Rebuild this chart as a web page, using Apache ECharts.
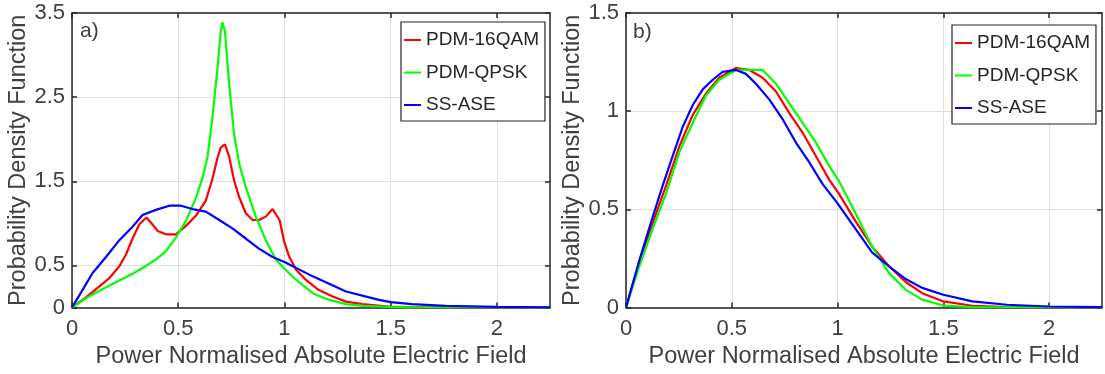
<!DOCTYPE html>
<html><head><meta charset="utf-8">
<script src="https://cdn.jsdelivr.net/npm/echarts@6.0.0/dist/echarts.min.js"></script>
<style>html,body{margin:0;padding:0;background:#fff}#c{width:1105px;height:374px}</style>
</head><body><div id="c"></div>
<script>
const seriesNames = ['PDM-16QAM', 'PDM-QPSK', 'SS-ASE'];
const seriesColors = ['#ff0000', '#00ff00', '#0000ff'];
const panelLabels = ['a)', 'b)'];
const xTitle = 'Power Normalised Absolute Electric Field';
const yTitle = 'Probability Density Function';
const xTicks = [0, 0.5, 1, 1.5, 2];
const yTicksA = [0, 0.5, 1.5, 2.5, 3.5];
const yTicksB = [0, 0.5, 1, 1.5];

// Panel a)
const a16qam = [[0,0],[0.066,0.12],[0.129,0.25],[0.176,0.35],[0.223,0.49],[0.254,0.63],[0.285,0.82],[0.317,0.99],[0.35,1.07],[0.371,1.01],[0.403,0.91],[0.442,0.87],[0.489,0.87],[0.536,0.97],[0.583,1.09],[0.63,1.27],[0.661,1.53],[0.685,1.78],[0.7,1.9],[0.72,1.94],[0.74,1.79],[0.763,1.51],[0.787,1.31],[0.818,1.12],[0.85,1.04],[0.88,1.04],[0.912,1.08],[0.944,1.17],[0.977,1.04],[1.0,0.77],[1.023,0.6],[1.055,0.45],[1.1,0.33],[1.16,0.21],[1.227,0.13],[1.29,0.07],[1.367,0.04],[1.49,0.012],[1.6,0.004],[1.8,0.001],[2.25,0]];
const aQpsk = [[0,0],[0.066,0.11],[0.129,0.2],[0.207,0.3],[0.285,0.4],[0.332,0.47],[0.395,0.57],[0.442,0.67],[0.489,0.83],[0.536,1.03],[0.583,1.3],[0.614,1.54],[0.638,1.79],[0.661,2.26],[0.685,2.85],[0.7,3.28],[0.708,3.39],[0.72,3.28],[0.74,2.65],[0.763,2.06],[0.787,1.71],[0.818,1.43],[0.865,1.08],[0.912,0.8],[0.959,0.57],[1.0,0.46],[1.055,0.33],[1.133,0.17],[1.21,0.09],[1.29,0.04],[1.37,0.02],[1.5,0.008],[1.6,0.002],[2.25,0]];
const aAse = [[0,0],[0.05,0.21],[0.097,0.41],[0.16,0.6],[0.223,0.8],[0.285,0.96],[0.332,1.1],[0.395,1.16],[0.458,1.21],[0.513,1.21],[0.567,1.17],[0.63,1.14],[0.693,1.04],[0.755,0.94],[0.818,0.82],[0.88,0.7],[0.944,0.6],[1.0,0.54],[1.133,0.37],[1.29,0.19],[1.445,0.09],[1.5,0.063],[1.6,0.04],[1.758,0.02],[2.0,0.008],[2.25,0.003]];

// Panel b)
const b16qam = [[0,0],[0.063,0.23],[0.126,0.43],[0.189,0.62],[0.252,0.82],[0.315,0.98],[0.378,1.09],[0.441,1.17],[0.52,1.22],[0.583,1.21],[0.646,1.17],[0.709,1.1],[0.772,0.99],[0.835,0.89],[0.898,0.77],[0.961,0.65],[1.006,0.58],[1.085,0.44],[1.164,0.31],[1.243,0.21],[1.322,0.13],[1.4,0.073],[1.5,0.031],[1.637,0.009],[1.8,0.002],[2.25,0]];
const bQpsk = [[0,0],[0.063,0.21],[0.126,0.4],[0.189,0.58],[0.252,0.79],[0.315,0.94],[0.378,1.08],[0.441,1.16],[0.52,1.21],[0.583,1.21],[0.646,1.21],[0.709,1.14],[0.772,1.04],[0.835,0.94],[0.898,0.84],[0.961,0.72],[1.006,0.645],[1.085,0.48],[1.164,0.31],[1.243,0.175],[1.322,0.09],[1.4,0.04],[1.5,0.01],[1.637,0.002],[2.25,0]];
const bAse = [[0,0],[0.063,0.24],[0.126,0.46],[0.173,0.62],[0.22,0.77],[0.268,0.92],[0.315,1.03],[0.362,1.11],[0.41,1.16],[0.457,1.2],[0.52,1.21],[0.567,1.19],[0.614,1.14],[0.677,1.06],[0.74,0.96],[0.803,0.84],[0.866,0.74],[0.929,0.63],[1.0,0.53],[1.085,0.4],[1.164,0.28],[1.243,0.21],[1.322,0.145],[1.4,0.1],[1.5,0.065],[1.637,0.031],[1.8,0.014],[2.0,0.005],[2.25,0.002]];

const FONT = '"Liberation Sans", Arial, Helvetica, sans-serif';
const AXC = '#262626', LBL = '#404040', GRIDC = '#dfdfdf';

function xAxisDef(gi, pos) {
  const main = pos === 'bottom';
  return {
    type: 'value', gridIndex: gi, position: pos, min: 0, max: 2.25,
    axisLine: { show: true, onZero: false, lineStyle: { color: AXC, width: 1.5 } },
    axisTick: { show: true, inside: true, length: 5, customValues: xTicks, lineStyle: { color: AXC, width: 1.5 } },
    axisLabel: { show: main, customValues: xTicks, fontSize: 22, color: LBL, fontFamily: FONT, margin: 10 },
    splitLine: { show: main, lineStyle: { color: GRIDC, width: 1 } },
    name: main ? xTitle : '', nameLocation: 'middle', nameGap: 35,
    nameTextStyle: { fontSize: 23.5, color: LBL, fontFamily: FONT }
  };
}
function yAxisDef(gi, pos, max, ticks) {
  const main = pos === 'left';
  return {
    type: 'value', gridIndex: gi, position: pos, min: 0, max: max,
    axisLine: { show: true, onZero: false, lineStyle: { color: AXC, width: 1.5 } },
    axisTick: { show: true, inside: true, length: 5, customValues: ticks, lineStyle: { color: AXC, width: 1.5 } },
    axisLabel: { show: main, customValues: ticks, fontSize: 22, color: LBL, fontFamily: FONT, margin: 7 },
    splitLine: { show: main, lineStyle: { color: GRIDC, width: 1 } },
    name: main ? yTitle : '', nameLocation: 'middle', nameGap: 35,
    nameTextStyle: { fontSize: 23.5, color: LBL, fontFamily: FONT }
  };
}
function legendDef(left, top) {
  return {
    orient: 'vertical', left: left, top: top, data: seriesNames, icon: 'rect',
    itemWidth: 17, itemHeight: 2, itemGap: 10.5, padding: [7, 6, 5, 3],
    borderColor: AXC, borderWidth: 1.2, backgroundColor: '#fff', selectedMode: false,
    textStyle: { fontSize: 19, color: '#262626', fontFamily: FONT, lineHeight: 22 }
  };
}
const panelData = [[a16qam, aQpsk, aAse], [b16qam, bQpsk, bAse]];
const series = [];
panelData.forEach((sets, p) => {
  sets.forEach((d, i) => {
    series.push({
      type: 'line', name: seriesNames[i], xAxisIndex: p * 2, yAxisIndex: p * 2,
      data: d, symbol: 'none', showSymbol: false, smooth: false,
      lineStyle: { color: seriesColors[i], width: 2.2 }, itemStyle: { color: seriesColors[i] },
      z: 3 + i
    });
  });
});

const chart = echarts.init(document.getElementById('c'), null, { renderer: 'canvas' });
chart.setOption({
  animation: false,
  backgroundColor: '#fff',
  grid: [
    { left: 72, right: 555, top: 13, bottom: 66.5 },
    { left: 626, right: 3, top: 13, bottom: 66.5 }
  ],
  xAxis: [xAxisDef(0, 'bottom'), xAxisDef(0, 'top'), xAxisDef(1, 'bottom'), xAxisDef(1, 'top')],
  yAxis: [yAxisDef(0, 'left', 3.5, yTicksA), yAxisDef(0, 'right', 3.5, yTicksA),
          yAxisDef(1, 'left', 1.5, yTicksB), yAxisDef(1, 'right', 1.5, yTicksB)],
  legend: [legendDef(401, 22), legendDef(952, 25)],
  graphic: [
    { type: 'text', left: 80, top: 21, style: { text: panelLabels[0], font: '21px ' + FONT, fill: LBL } },
    { type: 'text', left: 633, top: 22, style: { text: panelLabels[1], font: '21px ' + FONT, fill: LBL } }
  ],
  series: series
});
</script></body></html>
